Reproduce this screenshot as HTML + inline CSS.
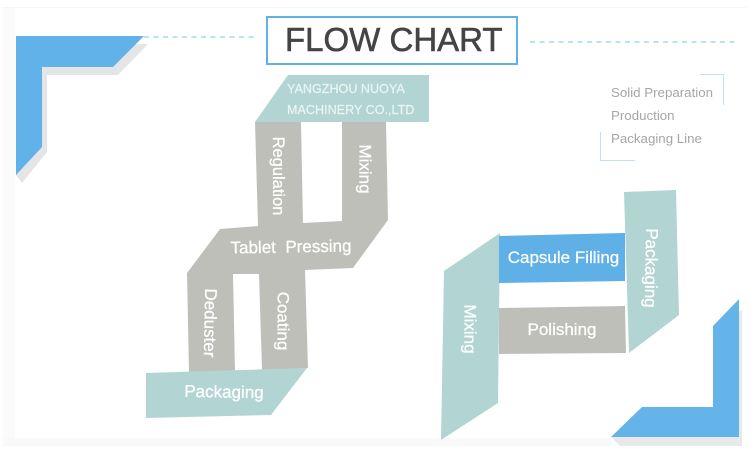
<!DOCTYPE html>
<html><head><meta charset="utf-8"><style>
html,body{margin:0;padding:0;background:#fff;width:750px;height:461px;overflow:hidden}
svg{display:block}
text{font-family:"Liberation Sans",Arial,sans-serif}
.w{fill:#fff;font-size:17px;text-anchor:middle;dominant-baseline:central;stroke:#fff;stroke-width:.25}
.g{fill:#a6a6a6;font-size:13.300px}
</style></head><body>
<svg width="750" height="461" viewBox="0 0 750 461" xmlns="http://www.w3.org/2000/svg">
<rect width="750" height="461" fill="#fff"/>
<rect x="2" y="7" width="744" height="1" fill="#f6f6f6"/>
<rect x="3" y="8" width="12" height="430" fill="#fbfbfb"/>
<rect x="3" y="438" width="608" height="8" fill="#f9f9f9"/>

<polygon points="148,44 118,75 47,75 47,152 22,183 16,175 16,60 140,44" fill="#e4e5e7"/>
<polygon points="16,36 144,36 113,67 42,67 42,147 16,175" fill="#60b2e9"/>
<polygon points="742,310 742,446 620,446 611,437 713,410 720,320" fill="#e8e9ea"/>
<polygon points="739,299 739,437 611,437 642,407 713,407 713,326" fill="#64b4e9"/>

<line x1="144" y1="37" x2="255" y2="37" stroke="#7cc4e4" stroke-width="1" stroke-dasharray="5 4.500"/>
<line x1="530" y1="42" x2="737" y2="42" stroke="#7cc4e4" stroke-width="1" stroke-dasharray="5 4.500"/>

<rect x="267" y="17" width="250" height="47" fill="#fff" stroke="#5fb2e4" stroke-width="2"/>
<text x="285" y="51" font-size="33" fill="#444" stroke="#444" stroke-width=".6">FLOW CHART</text>

<polygon points="255,122 301,122 303,223 342,221 342,122 386,122 388,220 353,268 305,270 308,368 262,370 259,274 233,274 235,371 189,372 187,273 220,229 258,226" fill="#bfbfba"/>
<polygon points="288,75 429,75 429,122 255,122" fill="#b2d5d3"/>
<polygon points="146,373 307,368 271,415 146,418" fill="#b2d5d3"/>

<text x="287" y="93" font-size="12.600" fill="#eaf5f4" stroke="#eaf5f4" stroke-width=".2">YANGZHOU NUOYA</text>
<text x="287" y="114" font-size="12.600" fill="#eaf5f4" stroke="#eaf5f4" stroke-width=".2">MACHINERY CO.,LTD</text>

<text class="w" transform="translate(278,176) rotate(90)" style="font-size:16.500px">Regulation</text>
<text class="w" transform="translate(365,169) rotate(90)">Mixing</text>
<text class="w" transform="translate(291,247) rotate(-1)">Tablet&#160;&#160;Pressing</text>
<text class="w" transform="translate(210,323) rotate(91)">Deduster</text>
<text class="w" transform="translate(283,321) rotate(90)">Coating</text>
<text class="w" transform="translate(224,392) rotate(1)">Packaging</text>

<polygon points="500,233 498,403 441,440 444,271" fill="#b2d5d3"/>
<polygon points="499,236 625,233 625,281 499,283" fill="#5fb0e6"/>
<polygon points="499,308 625,306 626,353 499,354" fill="#bfbfba"/>
<polygon points="624,192 676,190 679,315 629,353" fill="#b2d5d3"/>

<text class="w" transform="translate(470,329) rotate(90)">Mixing</text>
<text class="w" x="563.500" y="257.500">Capsule Filling</text>
<text class="w" x="562" y="329.500">Polishing</text>
<text class="w" transform="translate(651,268) rotate(91)">Packaging</text>

<text class="g" x="611" y="97">Solid Preparation</text>
<text class="g" x="611" y="120">Production</text>
<text class="g" x="611" y="143">Packaging Line</text>
<polyline points="700,74.500 723.500,74.500 723.500,105" fill="none" stroke="#c3e2f1"/>
<polyline points="600.500,132 600.500,160.500 635,160.500" fill="none" stroke="#c3e2f1"/>
</svg>
</body></html>
